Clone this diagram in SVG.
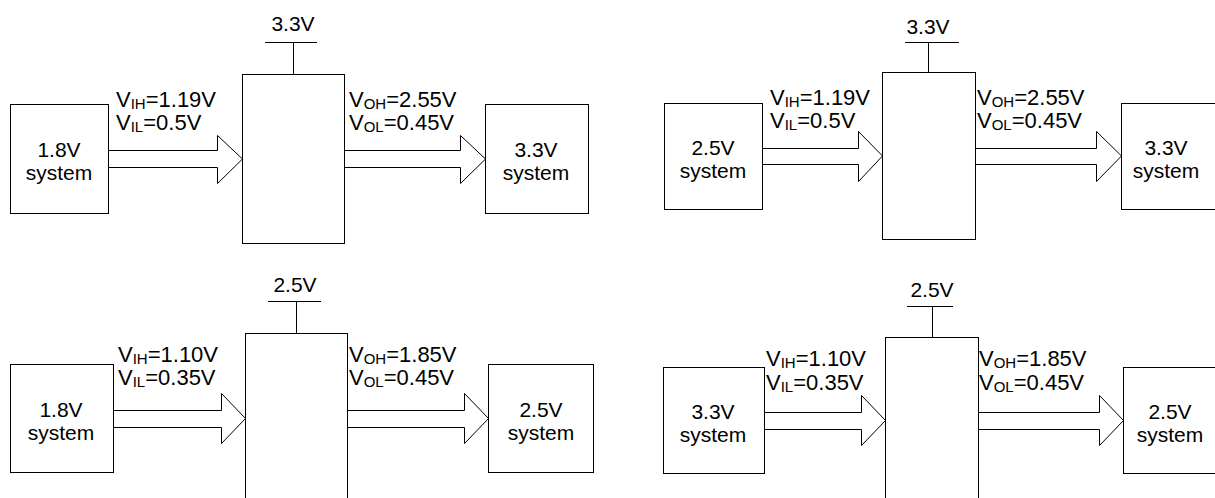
<svg xmlns="http://www.w3.org/2000/svg" width="1215" height="498" viewBox="0 0 1215 498">
<style>
.box{fill:#fff;stroke:#000;stroke-width:1}
.ln{fill:none;stroke:#000;stroke-width:1}
.arr{fill:#fff;stroke:#000;stroke-width:1}
text{font-family:"Liberation Sans",Arial,sans-serif;font-size:21px;fill:#000}
.lbl{font-size:22px}
.c{text-anchor:middle}
.sub{font-size:15px}
</style>
<rect width="1215" height="498" fill="#fff"/>
<g id="connectors">
  <path class="arr" d="M108.5,150.5 H217.5 V135.5 L242.5,159 L217.5,183.5 V167.5 H108.5"/>
  <path class="arr" d="M344.5,150.5 H460.5 V135.5 L485.5,159 L460.5,183.5 V167.5 H344.5"/>
  <path class="ln" d="M265,42.5 H317 M293.5,42.5 V74.5"/>
  <path class="arr" d="M762.5,148.5 H858.5 V131.5 L882.5,156 L858.5,181.5 V164.5 H762.5"/>
  <path class="arr" d="M975.5,148.5 H1096.5 V131.5 L1121.5,156 L1096.5,181.5 V164.5 H975.5"/>
  <path class="ln" d="M905,42.5 H959 M928.5,42.5 V72.5"/>
  <path class="arr" d="M113.5,410.5 H221.5 V393.5 L245.5,418.5 L221.5,443.5 V427.5 H113.5"/>
  <path class="arr" d="M347.5,410.5 H464.5 V393.5 L488.5,418.5 L464.5,443.5 V427.5 H347.5"/>
  <path class="ln" d="M268,301.5 H321 M296.5,301.5 V333.5"/>
  <path class="arr" d="M764.5,412.5 H861.5 V395.5 L885.5,420.5 L861.5,445.5 V429.5 H764.5"/>
  <path class="arr" d="M978.5,412.5 H1099.5 V395.5 L1123.5,420.5 L1099.5,445.5 V429.5 H978.5"/>
  <path class="ln" d="M907,306.5 H953 M932.5,306.5 V337.5"/>
</g>
<g id="q1-src"><rect class="box" x="10.5" y="104.5" width="98" height="109"/><text class="c" x="59" y="157">1.8V</text><text class="c" x="59" y="180">system</text></g>
<g id="q1-shifter"><rect class="box" x="242.5" y="74.5" width="102" height="169"/><text class="c" x="293" y="31">3.3V</text></g>
<g id="q1-in-label"><text class="lbl" x="116" y="107">V<tspan class="sub" dy="2">IH</tspan><tspan dy="-2">=1.19V</tspan></text><text class="lbl" x="116" y="130">V<tspan class="sub" dy="2">IL</tspan><tspan dy="-2">=0.5V</tspan></text></g>
<g id="q1-out-label"><text class="lbl" x="349" y="107">V<tspan class="sub" dy="2">OH</tspan><tspan dy="-2">=2.55V</tspan></text><text class="lbl" x="349" y="130">V<tspan class="sub" dy="2">OL</tspan><tspan dy="-2">=0.45V</tspan></text></g>
<g id="q1-dst"><rect class="box" x="485.5" y="104.5" width="103" height="109"/><text class="c" x="536" y="157">3.3V</text><text class="c" x="536" y="180">system</text></g>

<g id="q2-src"><rect class="box" x="664.5" y="103.5" width="98" height="106"/><text class="c" x="713" y="155">2.5V</text><text class="c" x="713" y="178">system</text></g>
<g id="q2-shifter"><rect class="box" x="882.5" y="72.5" width="93" height="167"/><text class="c" x="928" y="34">3.3V</text></g>
<g id="q2-in-label"><text class="lbl" x="770" y="105">V<tspan class="sub" dy="2">IH</tspan><tspan dy="-2">=1.19V</tspan></text><text class="lbl" x="770" y="128">V<tspan class="sub" dy="2">IL</tspan><tspan dy="-2">=0.5V</tspan></text></g>
<g id="q2-out-label"><text class="lbl" x="977" y="105">V<tspan class="sub" dy="2">OH</tspan><tspan dy="-2">=2.55V</tspan></text><text class="lbl" x="977" y="128">V<tspan class="sub" dy="2">OL</tspan><tspan dy="-2">=0.45V</tspan></text></g>
<g id="q2-dst"><rect class="box" x="1121.5" y="103.5" width="110" height="106"/><text class="c" x="1166" y="155">3.3V</text><text class="c" x="1166" y="178">system</text></g>

<g id="q3-src"><rect class="box" x="10.5" y="364.5" width="103" height="108"/><text class="c" x="61" y="417">1.8V</text><text class="c" x="61" y="440">system</text></g>
<g id="q3-shifter"><rect class="box" x="245.5" y="333.5" width="102" height="180"/><text class="c" x="295" y="292">2.5V</text></g>
<g id="q3-in-label"><text class="lbl" x="118" y="362">V<tspan class="sub" dy="2">IH</tspan><tspan dy="-2">=1.10V</tspan></text><text class="lbl" x="118" y="385">V<tspan class="sub" dy="2">IL</tspan><tspan dy="-2">=0.35V</tspan></text></g>
<g id="q3-out-label"><text class="lbl" x="349" y="362">V<tspan class="sub" dy="2">OH</tspan><tspan dy="-2">=1.85V</tspan></text><text class="lbl" x="349" y="385">V<tspan class="sub" dy="2">OL</tspan><tspan dy="-2">=0.45V</tspan></text></g>
<g id="q3-dst"><rect class="box" x="488.5" y="364.5" width="105" height="108"/><text class="c" x="541" y="417">2.5V</text><text class="c" x="541" y="440">system</text></g>

<g id="q4-src"><rect class="box" x="663.5" y="367.5" width="101" height="106"/><text class="c" x="713" y="419">3.3V</text><text class="c" x="713" y="442">system</text></g>
<g id="q4-shifter"><rect class="box" x="885.5" y="337.5" width="93" height="180"/><text class="c" x="932" y="297">2.5V</text></g>
<g id="q4-in-label"><text class="lbl" x="766" y="366">V<tspan class="sub" dy="2">IH</tspan><tspan dy="-2">=1.10V</tspan></text><text class="lbl" x="766" y="390">V<tspan class="sub" dy="2">IL</tspan><tspan dy="-2">=0.35V</tspan></text></g>
<g id="q4-out-label"><text class="lbl" x="979" y="366">V<tspan class="sub" dy="2">OH</tspan><tspan dy="-2">=1.85V</tspan></text><text class="lbl" x="979" y="390">V<tspan class="sub" dy="2">OL</tspan><tspan dy="-2">=0.45V</tspan></text></g>
<g id="q4-dst"><rect class="box" x="1123.5" y="367.5" width="110" height="106"/><text class="c" x="1170" y="419">2.5V</text><text class="c" x="1170" y="442">system</text></g>
</svg>
